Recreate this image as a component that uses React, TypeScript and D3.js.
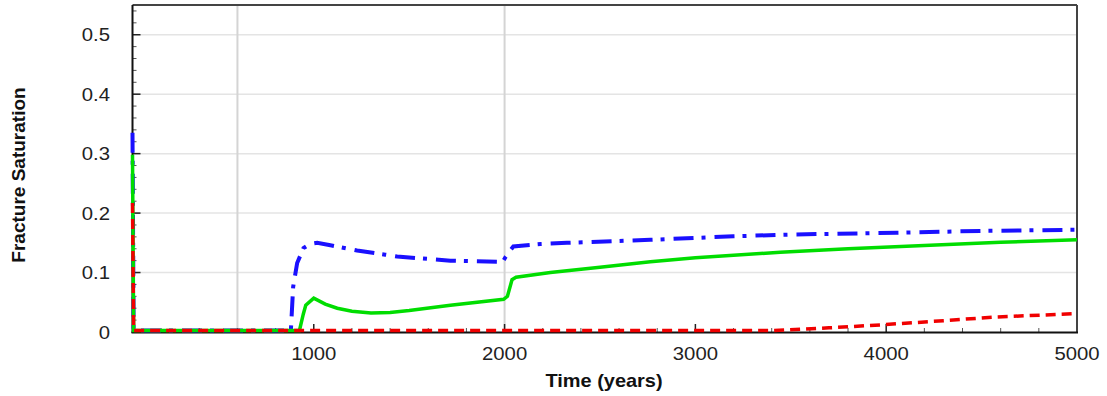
import React from "react";
import * as d3 from "d3";

// ---- data ----
const yTicks = [0, 0.1, 0.2, 0.3, 0.4, 0.5];
const yTickLabels = ["0", "0.1", "0.2", "0.3", "0.4", "0.5"];
const xTicks = [1000, 2000, 3000, 4000, 5000];
const xTickLabels = ["1000", "2000", "3000", "4000", "5000"];
const xEventLines = [600, 2000];

const blueT = [50, 56, 880, 892, 913, 946, 980, 1018, 1087, 1227, 1375, 1437, 1716, 1990, 2005, 2046, 2188, 2327, 2764, 3199, 3513, 4056, 4500, 5000];
const blueV = [0.335, 0, 0, 0.076, 0.116, 0.141, 0.148, 0.150, 0.146, 0.137, 0.130, 0.127, 0.120, 0.118, 0.126, 0.144, 0.148, 0.150, 0.155, 0.161, 0.164, 0.167, 0.170, 0.172];

const greenT = [50, 56, 925, 945, 958, 1000, 1060, 1123, 1200, 1300, 1400, 1500, 1716, 1995, 2015, 2039, 2060, 2240, 2500, 2764, 3000, 3445, 3800, 4230, 4600, 5000];
const greenV = [0.298, 0, 0, 0.03, 0.045, 0.057, 0.047, 0.040, 0.035, 0.032, 0.033, 0.036, 0.045, 0.055, 0.060, 0.088, 0.092, 0.100, 0.109, 0.118, 0.125, 0.134, 0.140, 0.146, 0.151, 0.155];

const redT = [50, 56, 3300, 3408, 3700, 3969, 4300, 4562, 5000];
const redV = [0.217, 0, 0, 0.002, 0.007, 0.012, 0.019, 0.025, 0.031];

const W = 1107, H = 396;
const L = 132.5, R = 1077, T = 5, B = 332;
const FONT = "'Liberation Sans', Arial, Helvetica, sans-serif";

export default function App() {
  const x = d3.scaleLinear().domain([50, 5000]).range([L, R]);
  const y = d3.scaleLinear().domain([0, 0.55]).range([B, T]);
  const line = d3.line<[number, number]>().x(d => x(d[0])).y(d => Math.min(y(d[1]), B - 1.5));
  const mk = (ts: number[], vs: number[]) => line(ts.map((t, i) => [t, vs[i]] as [number, number])) || "";

  const xMinor = d3.range(200, 5000, 200).filter(v => v % 1000 !== 0);
  const yMinor = d3.range(0.02, 0.55, 0.02).filter(v => Math.abs(v * 10 - Math.round(v * 10)) > 1e-6);

  return (
    <svg width={W} height={H} style={{ position: "absolute", left: 0, top: 0, background: "#fff" }}>
      <rect x={0} y={0} width={W} height={H} fill="#fff" />
      {/* grid */}
      {yTicks.filter(v => v > 0).map(v => (
        <line key={"gy" + v} x1={L} x2={R} y1={y(v)} y2={y(v)} stroke="#e4e4e4" strokeWidth={1.5} />
      ))}
      {xEventLines.map(v => (
        <line key={"gx" + v} x1={x(v)} x2={x(v)} y1={T} y2={B} stroke="#d4d4d4" strokeWidth={2} />
      ))}
      {/* minor ticks */}
      {xMinor.map(v => (
        <line key={"xm" + v} x1={x(v)} x2={x(v)} y1={B} y2={B - 4} stroke="#555" strokeWidth={1} />
      ))}
      {xTicks.map(v => (
        <line key={"xM" + v} x1={x(v)} x2={x(v)} y1={B} y2={B - 8} stroke="#222" strokeWidth={1.5} />
      ))}
      {yMinor.map(v => (
        <line key={"ym" + v} x1={L} x2={L + 4} y1={y(v)} y2={y(v)} stroke="#555" strokeWidth={1} />
      ))}
      {yTicks.map(v => (
        <line key={"yM" + v} x1={L} x2={L + 8} y1={y(v)} y2={y(v)} stroke="#222" strokeWidth={1.5} />
      ))}
      {/* frame */}
      <line x1={L} x2={R} y1={T} y2={T} stroke="#444" strokeWidth={2} />
      <line x1={R} x2={R} y1={T} y2={B} stroke="#444" strokeWidth={2} />
      <line x1={L} x2={L} y1={T} y2={B + 1} stroke="#111" strokeWidth={2} />
      <line x1={L - 1} x2={R + 1} y1={B + 0.5} y2={B + 0.5} stroke="#111" strokeWidth={2} />
      {/* series */}
      <path d={mk(blueT, blueV)} fill="none" stroke="#1a10ff" strokeWidth={4} strokeDasharray="20,8,4,9" />
      <path d={mk(greenT, greenV)} fill="none" stroke="#00dd00" strokeWidth={3.5} />
      <path d={mk(redT, redV)} fill="none" stroke="#f00000" strokeWidth={3.5} strokeDasharray="10,6" />
      {/* tick labels */}
      {yTicks.map((v, i) => (
        <text key={"yl" + v} transform={`translate(110,${y(v) + 6.5}) scale(1.07,1)`} textAnchor="end"
          fontFamily={FONT} fontSize={19} fill="#222">{yTickLabels[i]}</text>
      ))}
      {xTicks.map((v, i) => (
        <text key={"xl" + v} transform={`translate(${x(v)},${360}) scale(1.07,1)`} textAnchor="middle"
          fontFamily={FONT} fontSize={19} fill="#222">{xTickLabels[i]}</text>
      ))}
      {/* axis titles */}
      <text transform={`translate(604,387) scale(1.05,1)`} textAnchor="middle" fontFamily={FONT}
        fontSize={19} fontWeight="bold" fill="#111">Time (years)</text>
      <text transform={`translate(25,175) rotate(-90)`} textAnchor="middle" fontFamily={FONT}
        fontSize={19} fontWeight="bold" fill="#111">Fracture Saturation</text>
    </svg>
  );
}
